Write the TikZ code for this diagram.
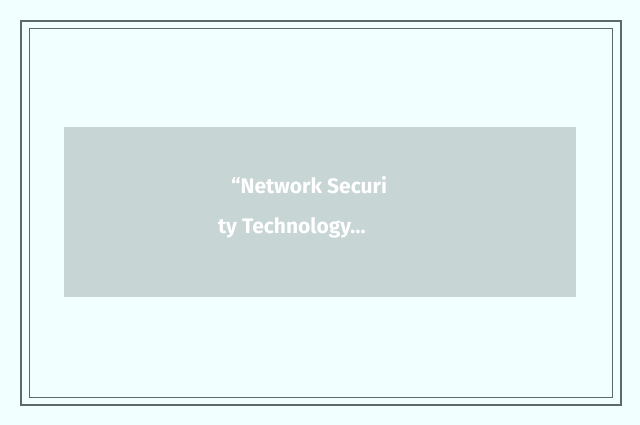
\documentclass[tikz,border=0pt]{standalone}
\usepackage{fontspec}
\setmainfont{Fira Sans}
\definecolor{bgc}{HTML}{F2FFFF}
\definecolor{frame}{HTML}{5B6B6B}
\definecolor{boxc}{HTML}{C7D5D5}
\tikzset{frm/.style={draw=frame,line width=1.5pt}}
\begin{document}
\begin{tikzpicture}[x=1pt,y=-1pt]
\fill[bgc] (0,0) rectangle (640,425);
\useasboundingbox (0,0) rectangle (640,425);
\draw[frm] (21,21) rectangle (621,405);
\draw[frm,line width=1pt] (29,29) rectangle (612,397);
\node[fill=boxc,minimum width=512pt,minimum height=170pt,inner sep=0pt] (box) at (320,212) {};
\node[text=white,font=\bfseries\fontsize{21}{40}\selectfont,align=left,anchor=north west,inner sep=0pt] (t) at (218,176) {\hspace*{13pt}“Network Securi\\ty Technology…};
\end{tikzpicture}
\end{document}
